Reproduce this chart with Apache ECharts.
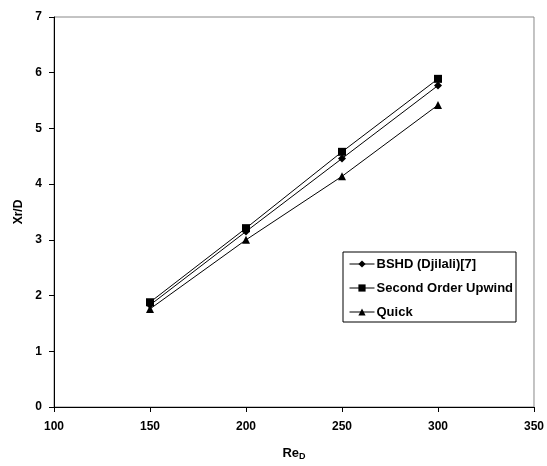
<!DOCTYPE html>
<html>
<head>
<meta charset="utf-8">
<script src="https://cdn.jsdelivr.net/npm/echarts@6/dist/echarts.min.js"></script>
<style>html,body{margin:0;padding:0;background:#fff;overflow:hidden}#c{width:547px;height:466px}</style>
</head>
<body>
<div id="c"></div>
<script>
const reynolds = [150, 200, 250, 300];
const bshd = [1.83, 3.15, 4.46, 5.77];
const secondOrderUpwind = [1.88, 3.21, 4.58, 5.89];
const quick = [1.76, 3.00, 4.14, 5.42];
const seriesNames = ['BSHD (Djilali)[7]', 'Second Order Upwind', 'Quick'];
const xTicks = [100, 150, 200, 250, 300, 350];
const yTicks = [0, 1, 2, 3, 4, 5, 6, 7];

const font = 'Liberation Sans, Arial, sans-serif';
const chart = echarts.init(document.getElementById('c'), null, {renderer: 'canvas', width: 547, height: 466});
function pairs(ys) { return reynolds.map((x, i) => [x, ys[i]]); }
const base = {type: 'line', lineStyle: {color: '#000', width: 1}, itemStyle: {color: '#000'}, animation: false, z: 3};
chart.setOption({
  backgroundColor: '#fff',
  animation: false,
  grid: {left: 54, width: 481, top: 17, height: 398, show: true, borderColor: '#888', borderWidth: 1},
  xAxis: {
    type: 'value', min: xTicks[0], max: xTicks[xTicks.length - 1], interval: 50,
    axisLine: {lineStyle: {color: '#000', width: 1}},
    axisTick: {show: true, length: 5, lineStyle: {color: '#000'}},
    splitLine: {show: false},
    axisLabel: {color: '#000', fontFamily: font, fontWeight: 'bold', fontSize: 12, margin: 14},
    name: '{a|Re}{b|D}', nameLocation: 'middle', nameGap: 39,
    nameTextStyle: {rich: {
      a: {fontFamily: font, fontWeight: 'bold', fontSize: 13, color: '#000'},
      b: {fontFamily: font, fontWeight: 'bold', fontSize: 9, color: '#000', verticalAlign: 'bottom', padding: [6, 0, 0, 0]}
    }}
  },
  yAxis: {
    type: 'value', min: yTicks[0], max: yTicks[yTicks.length - 1], interval: 1,
    axisLine: {lineStyle: {color: '#000', width: 1}},
    axisTick: {show: true, length: 5, lineStyle: {color: '#000'}},
    splitLine: {show: false},
    axisLabel: {color: '#000', fontFamily: font, fontWeight: 'bold', fontSize: 12, margin: 12},
    name: 'Xr/D', nameLocation: 'middle', nameGap: 28,
    nameTextStyle: {fontFamily: font, fontWeight: 'bold', fontSize: 12, color: '#000'}
  },
  legend: {
    orient: 'vertical', left: 343, top: 252,
    backgroundColor: '#fff', borderColor: '#000', borderWidth: 1,
    padding: [5, 3, 3, 6], itemGap: 10, itemWidth: 25, itemHeight: 9,
    lineStyle: {width: 1},
    textStyle: {fontFamily: font, fontWeight: 'bold', fontSize: 13, color: '#000', padding: [0, 0, 0, -3], lineHeight: 14},
    data: seriesNames
  },
  series: [
    Object.assign({}, base, {name: seriesNames[0], data: pairs(bshd), symbol: 'diamond', symbolSize: 8}),
    Object.assign({}, base, {name: seriesNames[1], data: pairs(secondOrderUpwind), symbol: 'rect', symbolSize: 8}),
    Object.assign({}, base, {name: seriesNames[2], data: pairs(quick), symbol: 'triangle', symbolSize: 8})
  ]
});
</script>
</body>
</html>
